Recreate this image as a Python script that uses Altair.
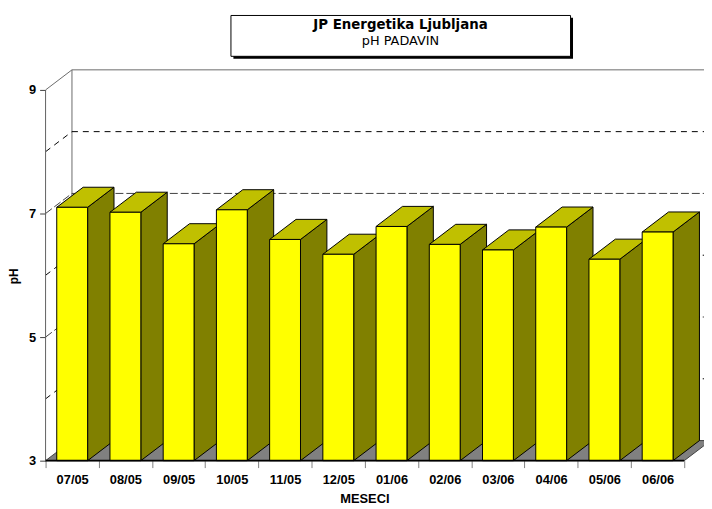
import json
import altair as alt
import pandas as pd

# ---------------- data ----------------
categories = ["07/05", "08/05", "09/05", "10/05", "11/05", "12/05",
              "01/06", "02/06", "03/06", "04/06", "05/06", "06/06"]
ph_values = [7.10, 7.02, 6.51, 7.06, 6.58, 6.34, 6.79, 6.50, 6.41, 6.78, 6.26, 6.70]
y_ticks = [3, 5, 7, 9]
major_grid = [5, 7]
minor_grid = [4, 6, 8]
title_main = "JP Energetika Ljubljana"
title_sub = "pH PADAVIN"
x_title = "MESECI"
y_title = "pH"

# ---------------- geometry / style ----------------
N = len(categories)
BASE, TOP = 3, 9
BAR_L, BAR_R = 0.21, 0.79          # bar front inside its category slot
DX, DY = 0.496, 0.325              # 3-D depth offset (x slots, pH units)
PW, PH = 666, 493                  # plot area size
PX_PER_CAT = 53.833
PX_PER_UNIT = 62.5
BASE_PX = 455

xs = alt.Scale(domain=[0, PW / PX_PER_CAT], nice=False, zero=False)
ys = alt.Scale(domain=[BASE - (PH - BASE_PX) / PX_PER_UNIT, BASE + BASE_PX / PX_PER_UNIT],
               nice=False, zero=False)

label_expr = ("datum.value % 1 == 0 ? '' : " + json.dumps(categories) + "[floor(datum.value)]")

x_axis = alt.Axis(
    values=[k * 0.5 for k in range(2 * N + 1)],
    offset=-(PH - BASE_PX),
    domain=False, grid=False,
    tickSize=7, tickColor="#808080", tickWidth=1,
    tickOpacity={"condition": {"test": "datum.value % 1 != 0", "value": 0}, "value": 1},
    labelExpr=label_expr, labelFont="Liberation Sans", labelFontSize=13,
    labelFontWeight="bold", labelColor="black", labelPadding=6,
    labelOverlap=False, labelFlush=False,
    title=x_title, titleFont="Liberation Sans", titleFontSize=13, titleFontWeight="bold",
    titleColor="black", titleX=322.5, titleY=42.5, titleAlign="center", titleBaseline="alphabetic",
)
y_axis = alt.Axis(
    values=y_ticks, domain=False, grid=False,
    tickSize=6, tickColor="#404040",
    labelFont="Liberation Sans", labelFontSize=13, labelFontWeight="bold",
    labelColor="black", labelPadding=4,
    title=y_title, titleFont="Liberation Sans", titleFontSize=12, titleFontWeight="bold",
    titleColor="black", titleAngle=270, titleX=-32.5, titleY=268,
    titleAlign="center", titleBaseline="middle",
)


def X(f, **kw):
    return alt.X(f, type="quantitative", scale=xs, axis=x_axis, stack=None, **kw)


def Y(f, **kw):
    return alt.Y(f, type="quantitative", scale=ys, axis=y_axis, stack=None, **kw)


# ---------------- tables built from the arrays ----------------
fronts = pd.DataFrame({
    "cat": categories,
    "x0": [i + BAR_L for i in range(N)],
    "x1": [i + BAR_R for i in range(N)],
    "y0": [BASE] * N,
    "v": ph_values,
})

side_rows, top_rows = [], []
for i, (c, v) in enumerate(zip(categories, ph_values)):
    side_rows.append({"cat": c, "x": i + BAR_R, "lo": BASE, "hi": v})
    side_rows.append({"cat": c, "x": i + BAR_R + DX, "lo": BASE + DY, "hi": v + DY})
    top_rows.append({"cat": c, "y": v, "xl": i + BAR_L, "xr": i + BAR_R})
    top_rows.append({"cat": c, "y": v + DY, "xl": i + BAR_L + DX, "xr": i + BAR_R + DX})
sides = pd.DataFrame(side_rows)
tops = pd.DataFrame(top_rows)


def wall_segments(levels):
    segs = []
    for g in levels:
        segs.append({"x": DX, "x2": N + DX, "y": g + DY, "y2": g + DY})   # back wall
        segs.append({"x": 0, "x2": DX, "y": g, "y2": g + DY})             # side wall
    return pd.DataFrame(segs)


major = wall_segments(major_grid)
top_edge = wall_segments([TOP])
top_edge = pd.concat([top_edge, pd.DataFrame([{"x": DX, "x2": DX, "y": BASE + DY, "y2": TOP + DY}])])
dashed = wall_segments(minor_grid)

floor = pd.DataFrame({"y": [BASE, BASE + DY], "xl": [0, DX], "xr": [N, N + DX]})
baseline = pd.DataFrame({"x": [0], "x2": [N], "y": [BASE]})
front_axis = pd.DataFrame({"x": [0], "y": [BASE], "y2": [TOP]})

# ---------------- layers ----------------
edge_layer = alt.Chart(top_edge).mark_rule(color="#6a6a6a", strokeWidth=1, clip=True).encode(
    x=X("x"), x2="x2", y=Y("y"), y2="y2")

major_layer = alt.Chart(major).mark_rule(color="#404040", strokeWidth=1, strokeDash=[8, 3], clip=True).encode(
    x=X("x"), x2="x2", y=Y("y"), y2="y2")

dashed_layer = alt.Chart(dashed).mark_rule(color="#000000", strokeWidth=1, strokeDash=[6, 5], clip=True).encode(
    x=X("x"), x2="x2", y=Y("y"), y2="y2")

floor_layer = alt.Chart(floor).mark_area(orient="horizontal", color="#808080", stroke="#404040",
                                         strokeWidth=1, clip=True).encode(
    y=Y("y"), x=X("xl"), x2="xr")

side_layer = alt.Chart(sides).mark_area(orient="vertical", color="#808000", stroke="black",
                                        strokeWidth=1).encode(
    x=X("x"), y=Y("lo"), y2="hi", detail="cat:N")

top_layer = alt.Chart(tops).mark_area(orient="horizontal", color="#C0C000", stroke="black",
                                      strokeWidth=1).encode(
    y=Y("y"), x=X("xl"), x2="xr", detail="cat:N")

front_layer = alt.Chart(fronts).mark_rect(color="#FFFF00", stroke="black", strokeWidth=1).encode(
    x=X("x0"), x2="x1", y=Y("y0"), y2="v")

front_axis_layer = alt.Chart(front_axis).mark_rule(color="#606060", strokeWidth=1).encode(
    x=X("x"), y=Y("y"), y2="y2")

baseline_layer = alt.Chart(baseline).mark_rule(color="black", strokeWidth=1.6).encode(
    x=X("x"), x2="x2", y=Y("y"))

one = alt.Data(values=[{"k": 1}])
shadow = alt.Chart(one).mark_rect(color="black").encode(
    x=alt.value(190), x2=alt.value(533.5), y=alt.value(7), y2=alt.value(48.5))
box = alt.Chart(one).mark_rect(fill="white", stroke="black", strokeWidth=1).encode(
    x=alt.value(187.5), x2=alt.value(531), y=alt.value(4.7), y2=alt.value(46))
t1 = alt.Chart(one).mark_text(font="DejaVu Sans", fontSize=13.5, fontWeight="bold", color="black",
                              align="center", baseline="alphabetic").encode(
    x=alt.value(359), y=alt.value(18.7), text=alt.value(title_main))
t2 = alt.Chart(one).mark_text(font="DejaVu Sans", fontSize=13, color="black",
                              align="center", baseline="alphabetic").encode(
    x=alt.value(359), y=alt.value(34.7), text=alt.value(title_sub))

chart = alt.layer(
    edge_layer, major_layer, dashed_layer, floor_layer, side_layer, top_layer, front_layer,
    front_axis_layer, baseline_layer, shadow, box, t1, t2,
).properties(
    width=PW, height=PH,
    autosize=alt.AutoSizeParams(type="none"),
    padding={"left": 38, "top": 0, "right": 0, "bottom": 6},
    background="white",
).configure_view(stroke=None)

chart.save("out.html", embed_options={"renderer": "svg", "actions": False})
